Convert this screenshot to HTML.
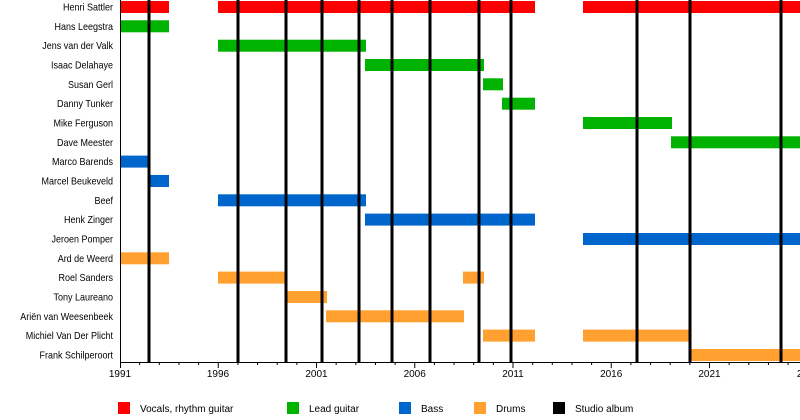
<!DOCTYPE html>
<html><head><meta charset="utf-8"><style>body{margin:0;background:#fff}svg{display:block}text{font-family:"Liberation Sans",sans-serif;font-size:10px}</style></head><body>
<svg width="800" height="420" xmlns="http://www.w3.org/2000/svg">
<g text-anchor="end" transform="translate(113,0) scale(0.9,1)">
<text x="0" y="10.5">Henri Sattler</text>
<text x="0" y="29.8">Hans Leegstra</text>
<text x="0" y="49.2">Jens van der Valk</text>
<text x="0" y="68.5">Isaac Delahaye</text>
<text x="0" y="87.8">Susan Gerl</text>
<text x="0" y="107.2">Danny Tunker</text>
<text x="0" y="126.5">Mike Ferguson</text>
<text x="0" y="145.8">Dave Meester</text>
<text x="0" y="165.1">Marco Barends</text>
<text x="0" y="184.5">Marcel Beukeveld</text>
<text x="0" y="203.8">Beef</text>
<text x="0" y="223.1">Henk Zinger</text>
<text x="0" y="242.5">Jeroen Pomper</text>
<text x="0" y="261.8">Ard de Weerd</text>
<text x="0" y="281.1">Roel Sanders</text>
<text x="0" y="300.5">Tony Laureano</text>
<text x="0" y="319.8">Ariën van Weesenbeek</text>
<text x="0" y="339.1">Michiel Van Der Plicht</text>
<text x="0" y="358.5">Frank Schilperoort</text>
</g>
<g fill="#ff0000">
<rect x="120" y="1" width="49" height="12"/><rect x="218" y="1" width="317" height="12"/><rect x="583" y="1" width="217" height="12"/>
</g>
<g fill="#00b300">
<rect x="120" y="20.3" width="49" height="12"/>
<rect x="218" y="39.7" width="148" height="12"/>
<rect x="365" y="59" width="119" height="12"/>
<rect x="483" y="78.3" width="20" height="12"/>
<rect x="502" y="97.7" width="33" height="12"/>
<rect x="583" y="117" width="89" height="12"/>
<rect x="671" y="136.3" width="129" height="12"/>
</g>
<g fill="#0066cc">
<rect x="120" y="155.6" width="30" height="12"/>
<rect x="149" y="175" width="20" height="12"/>
<rect x="218" y="194.3" width="148" height="12"/>
<rect x="365" y="213.6" width="170" height="12"/>
<rect x="583" y="233" width="217" height="12"/>
</g>
<g fill="#ffa030">
<rect x="120" y="252.3" width="49" height="12"/>
<rect x="218" y="271.6" width="68" height="12"/><rect x="463" y="271.6" width="21" height="12"/>
<rect x="286" y="291" width="41" height="12"/>
<rect x="326" y="310.3" width="138" height="12"/>
<rect x="483" y="329.6" width="52" height="12"/><rect x="583" y="329.6" width="107" height="12"/>
<rect x="690" y="349" width="110" height="12"/>
</g>
<g fill="#000">
<rect x="147.5" y="0" width="3" height="362"/><rect x="236.5" y="0" width="3" height="362"/><rect x="284.5" y="0" width="3" height="362"/><rect x="320.5" y="0" width="3" height="362"/><rect x="357.5" y="0" width="3" height="362"/><rect x="390.5" y="0" width="3" height="362"/><rect x="428.5" y="0" width="3" height="362"/><rect x="477.5" y="0" width="3" height="362"/><rect x="509.5" y="0" width="3" height="362"/><rect x="635.5" y="0" width="3" height="362"/><rect x="688.5" y="0" width="3" height="362"/><rect x="779.5" y="0" width="3" height="362"/>
<rect x="120" y="0" width="1" height="363"/><rect x="120" y="362" width="680" height="1"/>
</g>
<path stroke="#000" stroke-width="1" fill="none" d="M120.5 362v6M139.65 362v3M159.3 362v3M178.95 362v3M198.6 362v3M218.25 362v6M237.9 362v3M257.55 362v3M277.2 362v3M296.85 362v3M316.5 362v6M336.15 362v3M355.8 362v3M375.45 362v3M395.1 362v3M414.75 362v6M434.4 362v3M454.05 362v3M473.7 362v3M493.35 362v3M513 362v6M532.65 362v3M552.3 362v3M571.95 362v3M591.6 362v3M611.25 362v6M630.9 362v3M650.55 362v3M670.2 362v3M689.85 362v3M709.5 362v6M729.15 362v3M748.8 362v3M768.45 362v3M788.1 362v3"/>
<g text-anchor="middle">
<text x="120" y="377">1991</text><text x="218" y="377">1996</text><text x="316.5" y="377">2001</text><text x="414.7" y="377">2006</text><text x="513" y="377">2011</text><text x="611.2" y="377">2016</text><text x="709.5" y="377">2021</text><text x="808" y="377">2026</text>
</g>
<rect x="118" y="402" width="12" height="12" fill="#ff0000"/><text x="140" y="412">Vocals, rhythm guitar</text>
<rect x="287" y="402" width="12" height="12" fill="#00b300"/><text x="309" y="412">Lead guitar</text>
<rect x="399" y="402" width="12" height="12" fill="#0066cc"/><text x="421" y="412">Bass</text>
<rect x="474" y="402" width="12" height="12" fill="#ffa030"/><text x="496" y="412">Drums</text>
<rect x="553" y="402" width="12" height="12" fill="#000"/><text x="575" y="412">Studio album</text>
</svg></body></html>
